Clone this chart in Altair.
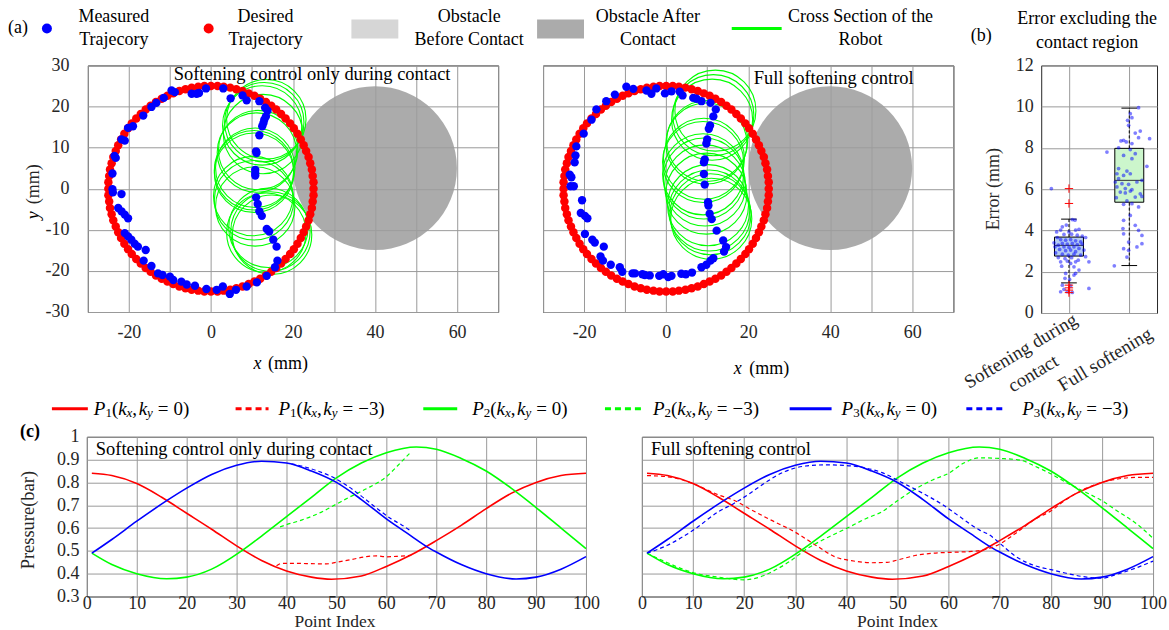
import altair as alt
import pandas as pd

SERIF = "Liberation Serif"
RED, GREEN, BLUE = "#ff0000", "#00ff00", "#0000ff"
GRID = "#9a9a9a"
FRAME = "#262626"
TXT = "#262626"

# ---------------- panel (a) data ----------------
desired_x = [25.0, 25.0, 24.8, 24.6, 24.2, 23.8, 23.2, 22.6, 21.9, 21.1, 20.2, 19.3, 18.2, 17.1, 15.9, 14.7, 13.4, 12.0, 10.6, 9.2, 7.7, 6.2, 4.7, 3.1, 1.6,
             0.0, -1.6, -3.1, -4.7, -6.2, -7.7, -9.2, -10.6, -12.0, -13.4, -14.7, -15.9, -17.1, -18.2, -19.3, -20.2, -21.1, -21.9, -22.6, -23.2, -23.8, -24.2, -24.6, -24.8, -25.0,
             -25.0, -25.0, -24.8, -24.6, -24.2, -23.8, -23.2, -22.6, -21.9, -21.1, -20.2, -19.3, -18.2, -17.1, -15.9, -14.7, -13.4, -12.0, -10.6, -9.2, -7.7, -6.2, -4.7, -3.1, -1.6,
             0.0, 1.6, 3.1, 4.7, 6.2, 7.7, 9.2, 10.6, 12.0, 13.4, 14.7, 15.9, 17.1, 18.2, 19.3, 20.2, 21.1, 21.9, 22.6, 23.2, 23.8, 24.2, 24.6, 24.8, 25.0]
desired_y = [0.0, 1.6, 3.1, 4.7, 6.2, 7.7, 9.2, 10.6, 12.0, 13.4, 14.7, 15.9, 17.1, 18.2, 19.3, 20.2, 21.1, 21.9, 22.6, 23.2, 23.8, 24.2, 24.6, 24.8, 25.0,
             25.0, 25.0, 24.8, 24.6, 24.2, 23.8, 23.2, 22.6, 21.9, 21.1, 20.2, 19.3, 18.2, 17.1, 15.9, 14.7, 13.4, 12.0, 10.6, 9.2, 7.7, 6.2, 4.7, 3.1, 1.6,
             0.0, -1.6, -3.1, -4.7, -6.2, -7.7, -9.2, -10.6, -12.0, -13.4, -14.7, -15.9, -17.1, -18.2, -19.3, -20.2, -21.1, -21.9, -22.6, -23.2, -23.8, -24.2, -24.6, -24.8, -25.0,
             -25.0, -25.0, -24.8, -24.6, -24.2, -23.8, -23.2, -22.6, -21.9, -21.1, -20.2, -19.3, -18.2, -17.1, -15.9, -14.7, -13.4, -12.0, -10.6, -9.2, -7.7, -6.2, -4.7, -3.1, -1.6]

meas_contact_x = [-9.6, -8.8, -4.7, -3.5, -2.9, -1.2, 3.0, 4.8, 7.7, 8.7, 11.8, 13.2, 13.8, 13.4, 13.0, 12.8, 12.5, 11.8, 11.0, 11.1,
                  10.8, 10.8, 10.8, 11.0, 11.4, 11.8, 12.4, 13.6, 14.2, 15.2, 16.0, 16.2, 15.6, 13.6, 11.2, 8.7, 6.1, 4.6, 2.9, 1.4,
                  -1.1, -3.9, -5.9, -7.2, -9.2, -10.0, -11.8, -12.9, -14.5, -16.4, -15.9, -17.8, -18.6, -19.4, -20.2, -21.0, -20.2, -21.0, -21.8, -22.6,
                  -21.8, -23.9, -24.0, -24.0, -23.2, -23.5, -21.0, -21.8, -19.0, -20.2, -16.5, -14.5, -13.3, -11.5]
meas_contact_y = [23.9, 23.5, 23.1, 23.1, 23.3, 24.4, 24.4, 22.0, 22.7, 21.5, 21.3, 19.7, 19.0, 17.6, 16.8, 16.0, 15.2, 13.0, 9.1, 8.7,
                  4.6, 3.8, 3.2, -2.1, -3.7, -5.5, -6.6, -9.8, -10.4, -12.4, -14.1, -17.5, -19.1, -21.2, -22.8, -23.8, -24.6, -25.6, -23.8, -24.6,
                  -24.4, -23.6, -23.3, -22.6, -22.2, -21.4, -21.0, -20.6, -18.8, -17.5, -14.9, -14.1, -13.4, -12.4, -11.6, -10.8, -7.2, -6.3, -5.5, -4.7,
                  -1.3, -0.9, -0.1, 3.7, 7.5, 8.0, 11.7, 12.0, 15.2, 14.8, 17.8, 19.9, 20.9, 22.1]

meas_full_x = [-9.7, -12.5, -14.6, -17.0, -18.2, -20.1, -21.9, -22.1, -22.3, -23.5, -23.1, -23.3, -22.5, -20.5, -20.8, -19.8, -19.2, -19.8, -18.0, -17.4,
               -15.2, -16.0, -15.4, -13.5, -11.3, -10.7, -8.2, -7.6, -5.8, -5.2, -4.0, -1.7, -0.7, 0.5, 1.3, 3.7, 4.8, 6.3, 8.6, 9.8,
               10.8, 11.5, 14.1, 14.6, 13.9, 12.3, 11.1, 10.6, 10.3, 10.2, 9.4, 9.2, 9.2, 9.4, 9.8, 10.0, 10.4, 10.7, 11.5, 12.1,
               10.8, 8.6, 7.4, 6.6, 4.0, 3.3, 1.3, -0.3, -2.4, -4.8, -3.6, -8.0]
meas_full_y = [24.8, 22.9, 21.3, 19.3, 16.8, 13.4, 10.3, 8.1, 6.4, 3.4, 2.8, 0.6, 0.6, -2.8, -5.9, -6.6, -7.2, -11.0, -12.4, -13.1,
               -14.1, -16.5, -17.5, -18.5, -19.1, -20.2, -20.6, -20.6, -20.8, -21.0, -21.1, -21.2, -20.8, -21.5, -21.2, -20.7, -20.8, -20.4, -19.1, -18.5,
               -17.5, -16.9, -15.3, -14.2, -12.6, -10.2, -7.4, -6.1, -4.1, -3.3, 1.0, 3.6, 6.4, 7.1, 11.0, 12.0, 14.6, 15.4, 17.6, 19.3,
               20.9, 21.3, 21.9, 22.1, 22.7, 23.6, 23.7, 23.2, 24.4, 23.9, 23.1, 24.3]

sect_contact_cx = [13.5, 13.0, 12.5, 12.7, 11.5, 11.2, 10.8, 10.5, 10.5, 10.3, 10.5, 10.8, 14.0, 14.5, 14.9, 13.5]
sect_contact_cy = [16.9, 16.2, 15.4, 13.3, 9.4, 8.8, 5.1, 4.5, 3.9, -1.8, -2.8, -4.3, -9.5, -10.4, -11.2, -10.7]
sect_contact_r = [9.7, 9.7, 9.7, 9.7, 9.7, 9.7, 9.7, 9.7, 9.7, 9.7, 9.7, 9.7, 9.7, 9.7, 9.7, 9.7]

sect_full_cx = [12.0, 11.5, 11.2, 10.0, 9.8, 9.2, 9.0, 9.0, 9.2, 9.5, 9.8, 10.2, 10.5, 10.8, 11.0]
sect_full_cy = [19.0, 17.9, 16.8, 11.6, 11.0, 7.3, 6.5, 3.5, 2.5, 0.8, -1.2, -4.0, -5.3, -6.2, -7.3]
sect_full_r = [9.9, 9.9, 9.9, 9.9, 9.9, 9.9, 9.9, 9.9, 9.9, 9.9, 9.9, 9.9, 9.9, 9.9, 9.9]

obstacle_cx = [40.0]
obstacle_cy = [5.0]
obstacle_r = [20.0]

# ---------------- panel (b) data ----------------
box_pos = [1, 2]
box_q1 = [2.76, 5.37]
box_med = [3.28, 6.43]
box_q3 = [3.68, 7.98]
box_wlo = [1.46, 2.30]
box_whi = [4.55, 9.93]
box_fill = ["#b5cdf3", "#ccf6cc"]
outlier_pos = [1, 1, 1, 1, 1, 1]
outlier_val = [6.03, 5.31, 1.35, 1.22, 1.11, 0.99]
jit1_dx = [-0.292, 0.055, 0.099, -0.044, -0.110, -0.138, 0.0, 0.110, 0.166, -0.204, -0.083, 0.044, 0.138, 0.221, 0.276, -0.193, -0.138, -0.055, 0.028, 0.110,
           0.193, -0.110, -0.028, 0.055, 0.138, -0.177, -0.248, 0.221, -0.083, 0.0, 0.083, 0.166, -0.154, -0.055, 0.028, 0.110, -0.221, -0.110, -0.011, 0.083,
           0.193, -0.177, -0.066, 0.044, 0.154, -0.138, -0.028, 0.110, 0.331, -0.121, 0.028, 0.083, -0.055, 0.110, 0.083, -0.066, 0.011, -0.110, 0.028, -0.138,
           -0.028, 0.331, 0.055, -0.083, 0.166, -0.232, 0.248, 0.276]
jit1_val = [6.03, 4.53, 4.50, 4.26, 4.18, 4.02, 3.93, 4.02, 4.06, 3.93, 3.81, 3.82, 3.77, 3.73, 3.66, 3.66, 3.56, 3.53, 3.56, 3.50,
            3.45, 3.37, 3.34, 3.37, 3.31, 3.29, 3.40, 3.34, 3.21, 3.18, 3.21, 3.13, 3.08, 3.02, 3.05, 2.97, 2.92, 2.85, 2.81, 2.85,
            2.81, 2.69, 2.64, 2.68, 2.56, 2.48, 2.52, 2.48, 2.48, 2.27, 2.40, 2.24, 1.92, 1.92, 1.84, 1.68, 1.63, 1.35, 1.31, 1.03,
            1.03, 1.19, 1.00, 1.15, 2.08, 3.21, 3.05, 2.73]
jit2_dx = [0.154, 0.017, 0.044, -0.028, -0.011, 0.182, 0.099, 0.337, 0.154, -0.094, -0.138, -0.050, 0.044, -0.370, -0.177, 0.017, 0.099, -0.094, 0.044, 0.292,
           -0.177, -0.039, -0.204, -0.094, 0.017, -0.177, -0.232, -0.121, -0.011, 0.127, 0.210, -0.204, -0.066, 0.044, -0.149, -0.066, 0.017, 0.182, 0.099, 0.210,
           -0.215, -0.039, 0.044, -0.094, 0.154, 0.017, -0.094, 0.099, -0.105, -0.094, 0.154, 0.210, 0.127, -0.011, -0.094, -0.039, -0.248, 0.210, -0.011]
jit2_val = [9.95, 9.66, 9.47, 9.34, 9.10, 8.82, 8.72, 8.45, 8.50, 8.37, 8.34, 8.29, 8.21, 7.80, 8.01, 7.92, 7.72, 7.64, 7.48, 7.11,
            7.00, 6.88, 6.75, 6.67, 6.75, 6.51, 6.35, 6.27, 6.24, 6.35, 6.43, 6.11, 6.03, 5.98, 5.86, 5.82, 5.91, 5.78, 5.62, 5.65,
            5.59, 5.43, 5.30, 5.27, 5.14, 4.73, 4.49, 4.25, 4.09, 3.84, 4.01, 3.76, 3.20, 3.04, 3.12, 2.71, 2.29, 3.36, 3.44]

# ---------------- panel (c) data ----------------
p1_x = [1, 5, 10, 15, 20, 25, 30, 35, 40, 45, 49, 55, 60, 65, 70, 75, 80, 85, 90, 95, 100]
p1_y = [0.840, 0.830, 0.795, 0.735, 0.665, 0.595, 0.522, 0.458, 0.412, 0.385, 0.376, 0.390, 0.432, 0.483, 0.545, 0.612, 0.685, 0.752, 0.800, 0.830, 0.840]
p2_x = [1, 5, 10, 16, 20, 25, 31, 35, 40, 45, 50, 55, 60, 66, 70, 75, 80, 85, 90, 95, 100]
p2_y = [0.490, 0.440, 0.400, 0.378, 0.385, 0.420, 0.500, 0.565, 0.650, 0.735, 0.820, 0.885, 0.930, 0.955, 0.945, 0.905, 0.850, 0.775, 0.690, 0.600, 0.510]
p3_x = [1, 5, 10, 16, 20, 25, 30, 35, 40, 45, 50, 55, 60, 65, 68, 70, 75, 80, 86, 90, 95, 100]
p3_y = [0.490, 0.550, 0.630, 0.720, 0.775, 0.835, 0.875, 0.893, 0.885, 0.850, 0.800, 0.725, 0.640, 0.565, 0.520, 0.495, 0.440, 0.400, 0.377, 0.385, 0.420, 0.475]

p1c_x = [38, 39, 42, 45, 48, 50, 53, 56, 58, 60, 62, 65]
p1c_y = [0.435, 0.445, 0.445, 0.444, 0.443, 0.450, 0.462, 0.475, 0.478, 0.474, 0.476, 0.480]
p2c_x = [38.7, 40, 43, 47, 50, 53, 56, 60, 63, 65]
p2c_y = [0.605, 0.615, 0.635, 0.670, 0.705, 0.740, 0.772, 0.825, 0.890, 0.935]
p3c_x = [41, 43, 46, 49, 52, 55, 58, 61, 63, 65]
p3c_y = [0.882, 0.872, 0.852, 0.826, 0.788, 0.740, 0.688, 0.640, 0.615, 0.585]

p1f_x = [1, 5, 10, 15, 18, 21, 25, 30, 34, 38, 41, 45, 48, 50, 54, 57, 61, 64, 67, 70, 73, 77, 80, 83, 87, 90, 94, 97, 100]
p1f_y = [0.830, 0.825, 0.795, 0.745, 0.722, 0.685, 0.638, 0.582, 0.525, 0.472, 0.457, 0.448, 0.450, 0.460, 0.482, 0.490, 0.494, 0.497, 0.505, 0.530,
         0.575, 0.640, 0.675, 0.725, 0.775, 0.800, 0.818, 0.822, 0.822]
p2f_x = [1, 5, 10, 15, 20, 23, 26, 29, 32, 36, 40, 44, 47, 50, 54, 57, 60, 63, 66, 70, 74, 77, 80, 83, 87, 90, 93, 97, 100]
p2f_y = [0.490, 0.448, 0.405, 0.385, 0.373, 0.385, 0.415, 0.455, 0.505, 0.555, 0.598, 0.643, 0.672, 0.720, 0.778, 0.812, 0.840, 0.885, 0.908, 0.905,
         0.898, 0.870, 0.838, 0.800, 0.755, 0.720, 0.675, 0.615, 0.555]
p3f_x = [1, 5, 10, 15, 18, 21, 24, 28, 32, 36, 40, 44, 47, 51, 55, 59, 62, 66, 68, 70, 73, 77, 80, 83, 87, 90, 93, 97, 100]
p3f_y = [0.490, 0.525, 0.590, 0.672, 0.708, 0.750, 0.797, 0.848, 0.872, 0.877, 0.874, 0.862, 0.843, 0.798, 0.752, 0.700, 0.653, 0.592, 0.570, 0.534,
         0.478, 0.434, 0.418, 0.402, 0.385, 0.380, 0.398, 0.428, 0.455]

legend_subs = ["1", "1", "2", "2", "3", "3"]
legend_rhs = ["0", "\u22123", "0", "\u22123", "0", "\u22123"]

one = pd.DataFrame({"v": [0]})
AX = dict(labelFont=SERIF, labelFontSize=18, labelColor=TXT, title=None)


def spacer(w, h=10):
    return alt.Chart(one).mark_point(opacity=0).encode(
        x=alt.value(0), y=alt.value(0)).properties(width=w, height=h)


def panel_a(mx, my, gcx, gcy, gr, show_y, title, tx, ty):
    xs = alt.Scale(domain=[-30, 70], nice=False, zero=False)
    ys = alt.Scale(domain=[-30, 30], nice=False, zero=False)
    xa = alt.Axis(values=list(range(-30, 71, 10)),
                  labelExpr="datum.value % 20 == 0 ? '' + datum.value : ''",
                  labelPadding=12, **AX)
    ya = alt.Axis(values=list(range(-30, 31, 10)), labelExpr="'' + datum.value",
                  labelPadding=19, labels=show_y, **AX)
    ss = alt.Scale(type="pow", exponent=2, domain=[0, 20], range=[0, 26896])
    X = alt.X("cx:Q", scale=xs, axis=xa)
    Y = alt.Y("cy:Q", scale=ys, axis=ya)
    obs = pd.DataFrame({"cx": obstacle_cx, "cy": obstacle_cy, "r": obstacle_r})
    sec = pd.DataFrame({"cx": gcx, "cy": gcy, "r": gr})
    des = pd.DataFrame({"cx": desired_x, "cy": desired_y})
    mea = pd.DataFrame({"cx": mx, "cy": my})
    l_obs = alt.Chart(obs).mark_point(shape="circle", filled=True, color="#9c9c9c",
                                      opacity=0.85, strokeWidth=0).encode(
        x=X, y=Y, size=alt.Size("r:Q", scale=ss, legend=None))
    l_sec = alt.Chart(sec).mark_point(shape="circle", filled=False, color=GREEN,
                                      opacity=1, strokeWidth=1.1).encode(
        x=X, y=Y, size=alt.Size("r:Q", scale=ss, legend=None))
    l_des = alt.Chart(des).mark_circle(color=RED, size=72, opacity=1).encode(x=X, y=Y)
    l_mea = alt.Chart(mea).mark_circle(color=BLUE, size=70, opacity=1).encode(x=X, y=Y)
    l_t = alt.Chart(one).mark_text(text=title, font=SERIF, fontSize=18.5, align="left",
                                   baseline="middle", color="black").encode(
        x=alt.value(tx), y=alt.value(ty))
    return alt.layer(l_obs, l_sec, l_des, l_mea, l_t).properties(
        width=411, height=247, view=alt.ViewBackground(stroke=FRAME, strokeWidth=1))


def panel_b():
    xs = alt.Scale(domain=[0.54, 2.46], nice=False, zero=False)
    ys = alt.Scale(domain=[0, 12], nice=False)
    xa = alt.Axis(values=[1, 2], labels=False, **AX)
    ya = alt.Axis(values=list(range(0, 13, 2)), labelExpr="'' + datum.value",
                  labelPadding=8, **AX)
    box = pd.DataFrame({"xc": box_pos, "q1": box_q1, "q3": box_q3, "med": box_med,
                        "lo": box_wlo, "hi": box_whi, "fill": box_fill})
    base = alt.Chart(box).transform_calculate(
        x1="datum.xc - 0.24", x2="datum.xc + 0.24",
        c1="datum.xc - 0.13", c2="datum.xc + 0.13")
    rect = base.mark_rect(stroke="black", strokeWidth=1, opacity=1).encode(
        x=alt.X("x1:Q", scale=xs, axis=xa), x2="x2:Q",
        y=alt.Y("q1:Q", scale=ys, axis=ya), y2="q3:Q",
        color=alt.Color("fill:N", scale=None))
    med = base.mark_rule(color="#333333", strokeWidth=1).encode(
        x=alt.X("x1:Q", scale=xs, axis=xa), x2="x2:Q", y=alt.Y("med:Q", scale=ys, axis=ya))
    wup = base.mark_rule(color="black", strokeDash=[3, 2], strokeWidth=1).encode(
        x=alt.X("xc:Q", scale=xs, axis=xa), y=alt.Y("q3:Q", scale=ys, axis=ya), y2="hi:Q")
    wdn = base.mark_rule(color="black", strokeDash=[3, 2], strokeWidth=1).encode(
        x=alt.X("xc:Q", scale=xs, axis=xa), y=alt.Y("lo:Q", scale=ys, axis=ya), y2="q1:Q")
    cup = base.mark_rule(color="black", strokeWidth=1).encode(
        x=alt.X("c1:Q", scale=xs, axis=xa), x2="c2:Q", y=alt.Y("hi:Q", scale=ys, axis=ya))
    cdn = base.mark_rule(color="black", strokeWidth=1).encode(
        x=alt.X("c1:Q", scale=xs, axis=xa), x2="c2:Q", y=alt.Y("lo:Q", scale=ys, axis=ya))
    jit = pd.DataFrame({"jx": [1 + d for d in jit1_dx] + [2 + d for d in jit2_dx],
                        "val": jit1_val + jit2_val})
    pts = alt.Chart(jit).mark_circle(color=BLUE, opacity=0.5, size=14).encode(
        x=alt.X("jx:Q", scale=xs, axis=xa), y=alt.Y("val:Q", scale=ys, axis=ya))
    outl = pd.DataFrame({"ox": outlier_pos, "ov": outlier_val})
    out = alt.Chart(outl).mark_point(shape="M-1,0L1,0M0,-1L0,1", filled=False, color=RED,
                                     strokeWidth=1, size=70, opacity=1).encode(
        x=alt.X("ox:Q", scale=xs, axis=xa), y=alt.Y("ov:Q", scale=ys, axis=ya))
    return alt.layer(rect, med, wup, wdn, cup, cdn, pts, out).properties(
        width=116, height=248, view=alt.ViewBackground(stroke=FRAME, strokeWidth=1))


def panel_c(width, solid, dashed, show_y, title):
    xs = alt.Scale(domain=[0, 100], nice=False, zero=False)
    ys = alt.Scale(domain=[0.3, 1.0], nice=False, zero=False)
    xa = alt.Axis(values=list(range(0, 101, 10)), labelPadding=-1.5, **AX)
    ya = alt.Axis(values=[0.3, 0.4, 0.5, 0.6, 0.7, 0.8, 0.9, 1.0], format=".1~f",
                  labelPadding=8, labels=show_y, **AX)
    layers = []
    for xv, yv, col in solid:
        df = pd.DataFrame({"x": xv, "y": yv})
        layers.append(alt.Chart(df).mark_line(color=col, strokeWidth=1.6, interpolate="monotone").encode(
            x=alt.X("x:Q", scale=xs, axis=xa), y=alt.Y("y:Q", scale=ys, axis=ya)))
    for xv, yv, col in dashed:
        df = pd.DataFrame({"x": xv, "y": yv})
        layers.append(alt.Chart(df).mark_line(color=col, strokeWidth=1.2, strokeDash=[4, 3],
                                              interpolate="monotone").encode(
            x=alt.X("x:Q", scale=xs, axis=xa), y=alt.Y("y:Q", scale=ys, axis=ya)))
    layers.append(alt.Chart(one).mark_text(text=title, font=SERIF, fontSize=18.5, align="left",
                                           baseline="middle", color="black").encode(
        x=alt.value(9), y=alt.value(12.5)))
    return alt.layer(*layers).properties(
        width=width, height=160, view=alt.ViewBackground(stroke=FRAME, strokeWidth=1))


# ---------------- overlay helpers (absolute pixel layout) ----------------
def ov_text(rows, y0, size=18, **kw):
    kw.setdefault("color", "black")
    df = pd.DataFrame(rows, columns=["px", "py", "t"])
    df["py"] = df["py"] - y0
    return alt.Chart(df).mark_text(font=SERIF, fontSize=size, **kw).encode(
        x=alt.X("px:Q", scale=None, axis=None), y=alt.Y("py:Q", scale=None, axis=None), text="t:N")


def math_pieces(x0, y0, sub, rhs):
    specs = [("P", True, 19, 11.6, 0), (sub, False, 13, 6.5, 4), ("(", False, 19, 6.3, 0),
             ("k", True, 19, 8.4, 0), ("x", True, 13, 5.8, 4), (",", False, 19, 6.3, 0),
             ("k", True, 19, 8.4, 0), ("y", True, 13, 5.8, 4), ("", False, 19, 5.0, 0),
             ("=", False, 19, 10.7, 0), ("", False, 19, 5.0, 0),
             (rhs, False, 19, 9.5 if len(rhs) == 1 else 20.2, 0), (")", False, 19, 6.3, 0)]
    it, nm = [], []
    x = x0
    for t, ital, fs, w, dy in specs:
        if t:
            (it if ital else nm).append((x, y0 + dy, t, fs))
        x += w
    return it, nm


def overlay_a():
    y0 = 64
    inv = alt.Chart(one).mark_rect(opacity=0).encode(
        x=alt.value(0), x2=alt.value(1169), y=alt.value(-64), y2=alt.value(355))
    normal = ov_text([
        (17, 27, "(a)"),
        (113, 15, "Measured"), (113, 39, "Trajecory"),
        (265, 15, "Desired"), (265, 39, "Trajectory"),
        (469, 15, "Obstacle"), (469, 39, "Before Contact"),
        (648, 15, "Obstacle After"), (648, 39, "Contact"),
        (861, 15, "Cross Section of the"), (861, 39, "Robot"),
        (982, 35, "(b)"),
        (1088, 17, "Error excluding the"), (1088, 42, "contact region"),
        (287.5, 363, "(mm)"), (769.5, 368, "(mm)"),
    ], y0, align="center", baseline="middle")
    ital = ov_text([(257, 363, "x"), (738, 368, "x")], y0, align="center",
                   baseline="middle", fontStyle="italic")
    rot = ov_text([(33, 183, "(mm)"), (995, 188, "Error (mm)")], y0, align="center",
                  baseline="middle", angle=270, color=TXT)
    rot_i = ov_text([(33, 214, "y")], y0, align="center", baseline="middle", angle=270,
                    fontStyle="italic")
    cats = ov_text([(1021.5, 350, "Softening during"), (1034, 372.5, "contact"),
                    (1106, 358.5, "Full softening")], y0, size=19, align="center",
                   baseline="middle", angle=329, color=TXT)
    dots = pd.DataFrame({"px": [46, 208], "py": [27 - y0, 27 - y0], "c": [BLUE, RED]})
    l_dots = alt.Chart(dots).mark_circle(size=100, opacity=1).encode(
        x=alt.X("px:Q", scale=None, axis=None), y=alt.Y("py:Q", scale=None, axis=None),
        color=alt.Color("c:N", scale=None))
    rects = pd.DataFrame({"x1": [351, 537], "x2": [398, 584], "y1": [18 - y0, 18 - y0],
                          "y2": [37 - y0, 37 - y0], "c": ["#d6d6d6", "#ababab"]})
    l_rects = alt.Chart(rects).mark_rect(opacity=1).encode(
        x=alt.X("x1:Q", scale=None, axis=None), x2="x2:Q",
        y=alt.Y("y1:Q", scale=None, axis=None), y2="y2:Q", color=alt.Color("c:N", scale=None))
    sol = pd.DataFrame({"x1": [732, 51, 423, 790], "x2": [782, 87, 457, 832],
                        "py": [27 - y0, 408 - y0, 408 - y0, 408 - y0], "c": [GREEN, RED, GREEN, BLUE]})
    l_sol = alt.Chart(sol).mark_rule(strokeWidth=3).encode(
        x=alt.X("x1:Q", scale=None, axis=None), x2="x2:Q",
        y=alt.Y("py:Q", scale=None, axis=None), color=alt.Color("c:N", scale=None))
    das = pd.DataFrame({"x1": [235, 605, 967], "x2": [268, 642, 1007],
                        "py": [408 - y0] * 3, "c": [RED, GREEN, BLUE]})
    l_das = alt.Chart(das).mark_rule(strokeWidth=3, strokeDash=[6, 4]).encode(
        x=alt.X("x1:Q", scale=None, axis=None), x2="x2:Q",
        y=alt.Y("py:Q", scale=None, axis=None), color=alt.Color("c:N", scale=None))
    it_all, nm_all = [], []
    for x0, sub, rhs in zip([93, 278, 472, 653, 842, 1023], legend_subs, legend_rhs):
        it, nm = math_pieces(x0, 408 - y0, sub, rhs)
        it_all += it
        nm_all += nm

    def pieces(rows, **kw):
        df = pd.DataFrame(rows, columns=["px", "py", "t", "fs"])
        return alt.Chart(df).mark_text(font=SERIF, color="black", align="left",
                                       baseline="middle", **kw).encode(
            x=alt.X("px:Q", scale=None, axis=None), y=alt.Y("py:Q", scale=None, axis=None),
            text="t:N", size=alt.Size("fs:Q", scale=None, legend=None))
    l_it = pieces(it_all, fontStyle="italic")
    l_nm = pieces(nm_all)
    return alt.layer(inv, l_rects, l_dots, l_sol, l_das, normal, ital, rot, rot_i, cats,
                     l_it, l_nm).properties(width=87, height=247)


def overlay_c():
    y0 = 434
    inv = alt.Chart(one).mark_rect(opacity=0).encode(
        x=alt.value(0), x2=alt.value(1169), y=alt.value(-15), y2=alt.value(196))
    lab = ov_text([(29, 429, "(c)")], y0, align="center", baseline="middle", fontWeight="bold")
    rot = ov_text([(27, 517.5, "Pressure(bar)")], y0, size=18.5, align="center",
                  baseline="middle", angle=270, color=TXT)
    bot = ov_text([(334.5, 625, "Point Index"), (898, 625, "Point Index")], y0, size=17.5,
                  align="center", baseline="alphabetic", color=TXT)
    return alt.layer(inv, lab, rot, bot).properties(width=86, height=160)


a_left = panel_a(meas_contact_x, meas_contact_y, sect_contact_cx, sect_contact_cy, sect_contact_r,
                 True, "Softening control only during contact", 86, 8.5)
a_right = panel_a(meas_full_x, meas_full_y, sect_full_cx, sect_full_cy, sect_full_r,
                  False, "Full softening control", 211, 13)
b_chart = panel_b()

solid_sets = [(p1_x, p1_y, RED), (p2_x, p2_y, GREEN), (p3_x, p3_y, BLUE)]
c_left = panel_c(500, solid_sets, [(p1c_x, p1c_y, RED), (p2c_x, p2c_y, GREEN), (p3c_x, p3c_y, BLUE)],
                 True, "Softening control only during contact")
c_right = panel_c(512, solid_sets, [(p1f_x, p1f_y, RED), (p2f_x, p2f_y, GREEN), (p3f_x, p3f_y, BLUE)],
                  False, "Full softening control")

rowA = alt.hconcat(overlay_a(), a_left, spacer(45), a_right, spacer(88), b_chart,
                   spacing=0, bounds="flush")
rowC = alt.hconcat(overlay_c(), c_left, spacer(56), c_right, spacing=0, bounds="flush")

chart = alt.vconcat(rowA, rowC, spacing=0).properties(
    padding=0, background="white"
).configure_axis(
    labelFont=SERIF, labelFontSize=18, labelColor=TXT, gridColor=GRID, gridWidth=1,
    gridOpacity=1, domain=False, ticks=False, tickSize=0, labelFlush=False, labelOverlap=False
).configure_view(stroke="transparent")

chart.save("out.html", embed_options={"renderer": "svg", "actions": False})
